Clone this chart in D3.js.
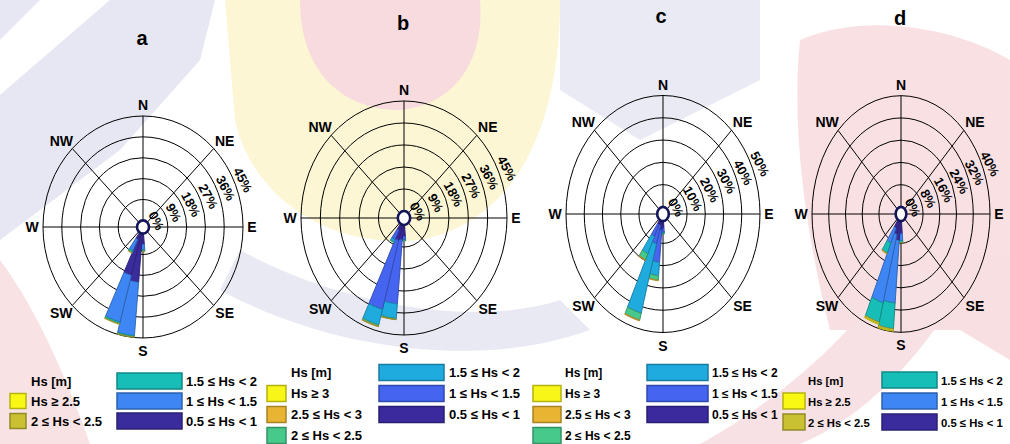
<!DOCTYPE html>
<html>
<head>
<meta charset="utf-8">
<script src="https://cdn.jsdelivr.net/npm/d3@7"></script>
<style>
  html, body { margin: 0; padding: 0; background: #fff; }
  svg { display: block; font-family: "Liberation Sans", Arial, Helvetica, sans-serif; font-weight: bold; }
</style>
</head>
<body>
<svg id="chart" width="1010" height="444"></svg>
<script>
// ---- data -------------------------------------------------------------
// direction bins (compass degrees, sector centres, 10° wide)
const directions = [180, 190, 200, 210];

const compassLabels = ['N', 'NE', 'E', 'SE', 'S', 'SW', 'W', 'NW'];
const panelTitles = ['a', 'b', 'c', 'd'];

const classes5 = ['0.5 \u2264 Hs < 1', '1 \u2264 Hs < 1.5', '1.5 \u2264 Hs < 2', '2 \u2264 Hs < 2.5', 'Hs \u2265 2.5'];
const classes6 = ['0.5 \u2264 Hs < 1', '1 \u2264 Hs < 1.5', '1.5 \u2264 Hs < 2', '2 \u2264 Hs < 2.5', '2.5 \u2264 Hs < 3', 'Hs \u2265 3'];

// ring ticks (%)
const ticksA = [0, 9, 18, 27, 36, 45];
const ticksB = [0, 9, 18, 27, 36, 45];
const ticksC = [0, 10, 20, 30, 40, 50];
const ticksD = [0, 8, 16, 24, 32, 40];

// frequency (%) per Hs class (rows, low to high) and direction (columns)
const freqA = [
  [4.5, 21.0, 18.7, 3.0],
  [2.5, 23.2, 20.9, 5.5],
  [0.6, 0.5, 0.7, 0.8],
  [0.2, 0.2, 0.3, 0.3],
  [0.0, 0.0, 0.0, 0.0]
];
const freqB = [
  [4.5, 6.0, 6.5, 2.5],
  [1.5, 26.4, 29.3, 4.5],
  [0.3, 6.0, 6.6, 1.0],
  [0.2, 0.4, 0.6, 0.3],
  [0.0, 0.1, 0.2, 0.0],
  [0.0, 0.0, 0.0, 0.0]
];
const freqC = [
  [3.0, 4.0, 2.0, 2.0],
  [2.0, 14.6, 8.7, 6.0],
  [0.5, 6.0, 32.2, 8.5],
  [0.3, 2.0, 3.2, 3.0],
  [0.0, 0.3, 0.4, 0.4],
  [0.0, 0.0, 0.0, 0.0]
];
const freqD = [
  [4.5, 7.0, 5.0, 3.0],
  [2.5, 22.6, 25.5, 6.0],
  [0.7, 9.3, 7.2, 4.0],
  [0.2, 0.7, 0.7, 0.4],
  [0.0, 0.2, 0.2, 0.0]
];

// ---- styling ----------------------------------------------------------
const colors5 = ['#3b2c9e', '#3d86f3', '#17bdb7', '#c9c032', '#f8f814'];
const colors6 = ['#3a2a9e', '#4565f0', '#20abdf', '#46c98a', '#e8b432', '#f8f618'];

const HOLE = 0.06;   // radius of the centre circle (fraction of outer ring)

const panels = [
  { title: panelTitles[0], ticks: ticksA, freq: freqA, classes: classes5, colors: colors5,
    cx: 143, cy: 227, rx: 100, ry: 111, titleX: 142, titleY: 45,
    legend: { fs: 13, y0: 381, dy: 20, lx: 10, lw: 16, lh: 15, ltx: 31, rx: 117, rw: 65, rh: 16, rtx: 186 } },
  { title: panelTitles[1], ticks: ticksB, freq: freqB, classes: classes6, colors: colors6,
    cx: 404, cy: 218, rx: 103, ry: 117, titleX: 403, titleY: 30,
    legend: { fs: 13, y0: 372.5, dy: 21, lx: 267, lw: 19, lh: 16, ltx: 291, rx: 379, rw: 65, rh: 16, rtx: 449 } },
  { title: panelTitles[2], ticks: ticksC, freq: freqC, classes: classes6, colors: colors6,
    cx: 663, cy: 214, rx: 97, ry: 118.5, titleX: 661, titleY: 23,
    legend: { fs: 12, y0: 372.5, dy: 21, lx: 533, lw: 28, lh: 16, ltx: 565, rx: 647, rw: 61, rh: 16, rtx: 712 } },
  { title: panelTitles[3], ticks: ticksD, freq: freqD, classes: classes5, colors: colors5,
    cx: 901, cy: 214, rx: 89, ry: 118.3, titleX: 900, titleY: 25,
    legend: { fs: 11.3, y0: 380, dy: 21, lx: 783, lw: 22, lh: 16, ltx: 808, rx: 882, rw: 55, rh: 16, rtx: 941 } }
];

const svg = d3.select('#chart');

// ---- faded background emblem --------------------------------------------
const bg = svg.append('g').attr('class', 'emblem').attr('opacity', 0.7);
bg.append('path')
  .attr('d', 'M0,0 L215,0 L200,60 L120,150 L0,240 Z')
  .attr('fill', '#dcdded');
bg.append('path')
  .attr('d', 'M40,0 L110,0 L0,95 L0,40 Z')
  .attr('fill', '#ffffff');
bg.append('path')
  .attr('d', 'M225,0 L560,0 C560,120 520,220 420,240 C320,250 250,190 235,120 Z')
  .attr('fill', '#fcf3c2');
bg.append('path')
  .attr('d', 'M300,0 L480,0 C485,60 455,105 400,110 C340,110 300,70 300,0 Z')
  .attr('fill', '#f4cdd2');
bg.append('path')
  .attr('d', 'M560,0 L760,0 L760,80 L640,140 L560,90 Z')
  .attr('fill', '#e1e2ef');
bg.append('path')
  .attr('d', 'M800,40 C870,10 960,30 1010,60 L1010,360 L960,330 L830,330 C810,250 790,140 800,40 Z')
  .attr('fill', '#f6d3d7');
bg.append('path')
  .attr('d', 'M240,250 C330,300 470,330 560,300 L590,330 C480,370 330,350 220,290 Z')
  .attr('fill', '#dfe0ee');
bg.append('path')
  .attr('d', 'M0,260 C30,300 60,360 90,444 L0,444 Z')
  .attr('fill', '#f6d6da');
bg.append('path')
  .attr('d', 'M700,444 C780,400 860,330 900,260 L960,290 C920,360 860,420 800,444 Z')
  .attr('fill', '#f5d5d9');

// ---- roses --------------------------------------------------------------
function drawPanel(p) {
  const g = svg.append('g');
  const maxV = p.ticks[p.ticks.length - 1];
  const r = d3.scaleLinear().domain([0, maxV]).range([HOLE, 1]);
  const rad = deg => deg * Math.PI / 180;
  const pt = (deg, rn) => [p.cx + rn * p.rx * Math.sin(rad(deg)), p.cy - rn * p.ry * Math.cos(rad(deg))];
  const line = d3.line();

  function sector(a0, a1, rIn, rOut) {
    const pts = [];
    for (let a = a0; a <= a1 + 1e-9; a += 0.5) pts.push(pt(a, rOut));
    for (let a = a1; a >= a0 - 1e-9; a -= 0.5) pts.push(pt(a, rIn));
    return line(pts) + 'Z';
  }

  // rings
  g.selectAll('ellipse.ring').data(p.ticks.slice(1)).join('ellipse')
    .attr('class', 'ring')
    .attr('cx', p.cx).attr('cy', p.cy)
    .attr('rx', d => r(d) * p.rx).attr('ry', d => r(d) * p.ry)
    .attr('fill', 'none').attr('stroke', '#000').attr('stroke-width', 1);

  // spokes
  g.selectAll('line.spoke').data(d3.range(8)).join('line')
    .attr('class', 'spoke')
    .attr('x1', k => pt(k * 45, HOLE)[0]).attr('y1', k => pt(k * 45, HOLE)[1])
    .attr('x2', k => pt(k * 45, 1)[0]).attr('y2', k => pt(k * 45, 1)[1])
    .attr('stroke', '#000').attr('stroke-width', 1);

  // stacked sectors
  directions.forEach((dir, i) => {
    let cum = 0;
    p.freq.forEach((row, j) => {
      const v = row[i];
      if (v <= 0) return;
      const fill = p.colors[j];
      g.append('path')
        .attr('d', sector(dir - 5, dir + 5, r(cum), r(cum + v)))
        .attr('fill', fill)
        .attr('stroke', d3.color(fill).darker(0.9))
        .attr('stroke-width', 0.9)
        .attr('stroke-linejoin', 'round');
      cum += v;
    });
  });

  // centre circle
  g.append('ellipse')
    .attr('cx', p.cx).attr('cy', p.cy)
    .attr('rx', HOLE * p.rx).attr('ry', HOLE * p.ry)
    .attr('fill', '#fff').attr('stroke', '#14145a').attr('stroke-width', 2.6);

  // ring labels
  g.selectAll('text.tick').data(p.ticks).join('text')
    .attr('class', 'tick')
    .attr('transform', d => {
      const [x, y] = pt(67, r(d) + 0.085);
      return `translate(${x},${y}) rotate(62)`;
    })
    .attr('text-anchor', 'middle')
    .attr('dy', '0.35em')
    .attr('font-size', 13)
    .text(d => d + '%');

  // compass labels
  const off = [
    [0, -(p.ry + 11)], [0.707 * p.rx + 11, -(0.707 * p.ry + 8)], [p.rx + 9, 0], [0.707 * p.rx + 11, 0.707 * p.ry + 8],
    [0, p.ry + 13], [-(0.707 * p.rx + 11), 0.707 * p.ry + 8], [-(p.rx + 11), 0], [-(0.707 * p.rx + 11), -(0.707 * p.ry + 8)]
  ];
  g.selectAll('text.dir').data(compassLabels).join('text')
    .attr('class', 'dir')
    .attr('x', (d, k) => p.cx + off[k][0])
    .attr('y', (d, k) => p.cy + off[k][1] + 5)
    .attr('text-anchor', 'middle')
    .attr('font-size', 14)
    .text(d => d);

  // panel title
  g.append('text')
    .attr('x', p.titleX).attr('y', p.titleY)
    .attr('text-anchor', 'middle')
    .attr('font-size', 20)
    .text(p.title);

  // legend: right column holds the three lowest classes, left column the rest
  const L = p.legend;
  const lg = g.append('g').attr('font-size', L.fs);
  const n = p.classes.length;
  lg.append('text').attr('x', L.ltx).attr('y', L.y0 + 4.5).text('Hs [m]');
  for (let row = 0; row < 3; row++) {
    const j = 2 - row;
    const cy = L.y0 + row * L.dy;
    lg.append('rect')
      .attr('x', L.rx).attr('y', cy - L.rh / 2).attr('width', L.rw).attr('height', L.rh)
      .attr('fill', p.colors[j]).attr('stroke', d3.color(p.colors[j]).darker(0.9)).attr('stroke-width', 1.5);
    lg.append('text').attr('x', L.rtx).attr('y', cy + 4.5).text(p.classes[j]);
  }
  for (let j = n - 1, row = 1; j >= 3; j--, row++) {
    const cy = L.y0 + row * L.dy;
    lg.append('rect')
      .attr('x', L.lx).attr('y', cy - L.lh / 2).attr('width', L.lw).attr('height', L.lh)
      .attr('fill', p.colors[j]).attr('stroke', d3.color(p.colors[j]).darker(0.9)).attr('stroke-width', 1.5);
    lg.append('text').attr('x', L.ltx).attr('y', cy + 4.5).text(p.classes[j]);
  }
}

panels.forEach(drawPanel);
</script>
</body>
</html>
